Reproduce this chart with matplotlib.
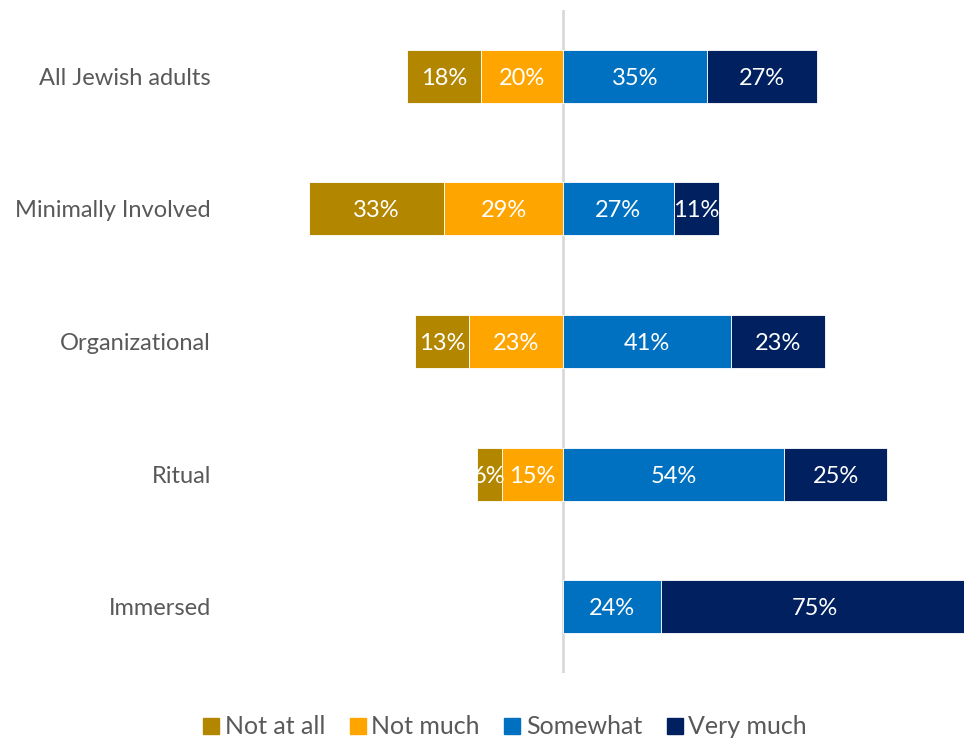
import matplotlib
matplotlib.use("Agg")
import matplotlib.pyplot as plt
from matplotlib.lines import Line2D
import numpy as np

categories = ["All Jewish adults", "Minimally Involved", "Organizational", "Ritual", "Immersed"]
not_at_all = [18, 33, 13, 6, 0]
not_much = [20, 29, 23, 15, 0]
somewhat = [35, 27, 41, 54, 24]
very_much = [27, 11, 23, 25, 75]

series_names = ["Not at all", "Not much", "Somewhat", "Very much"]
colors = ["#B38600", "#FFA500", "#0070C0", "#002060"]
text_gray = "#595959"

plt.rcParams["font.family"] = ["Lato", "DejaVu Sans"]

W, H = 964, 740
fig = plt.figure(figsize=(W / 100, H / 100), dpi=100)
ax_left, ax_right = 215, 964
ax_top, ax_bot = 10, 673
ax = fig.add_axes([ax_left / W, 1 - ax_bot / H, (ax_right - ax_left) / W, (ax_bot - ax_top) / H])

px_per_pct = 4.1
center_px = 563
ax.set_xlim(-(center_px - ax_left) / px_per_pct, (ax_right - center_px) / px_per_pct)
ax.set_ylim(4.5, -0.5)

y = np.arange(len(categories))
bar_h = 0.4
label_fs = 17


def draw_segments(lefts, widths, color):
    bars = ax.barh(y, widths, left=lefts, height=bar_h, color=color,
                   edgecolor="white", linewidth=0.6, zorder=2)
    for yi, l, w in zip(y, lefts, widths):
        if w > 0:
            ax.text(l + w / 2, yi, f"{w}%", ha="center", va="center_baseline",
                    color="white", fontsize=label_fs, zorder=3)
    return bars


na = np.array(not_at_all)
nm = np.array(not_much)
sw = np.array(somewhat)
vm = np.array(very_much)

draw_segments(-(na + nm), na, colors[0])
draw_segments(-nm, nm, colors[1])
draw_segments(np.zeros_like(sw), sw, colors[2])
draw_segments(sw, vm, colors[3])

ax.axvline(0, color="#D9D9D9", linewidth=2, zorder=1)

ax.set_yticks(y)
ax.set_yticklabels(categories, fontsize=label_fs, color=text_gray)
ax.tick_params(axis="y", length=0, pad=3)
ax.set_xticks([])
for s in ax.spines.values():
    s.set_visible(False)

handles = [Line2D([], [], marker="s", linestyle="none", markersize=11,
                  markerfacecolor=c, markeredgecolor=c) for c in colors]
fig.legend(handles, series_names, loc="center", bbox_to_anchor=(504 / W, 1 - 727 / H),
           ncol=4, frameon=False, fontsize=18, labelcolor=text_gray,
           handletextpad=0.15, columnspacing=0.9, handlelength=0.8)

fig.savefig("out.png", dpi=100)
